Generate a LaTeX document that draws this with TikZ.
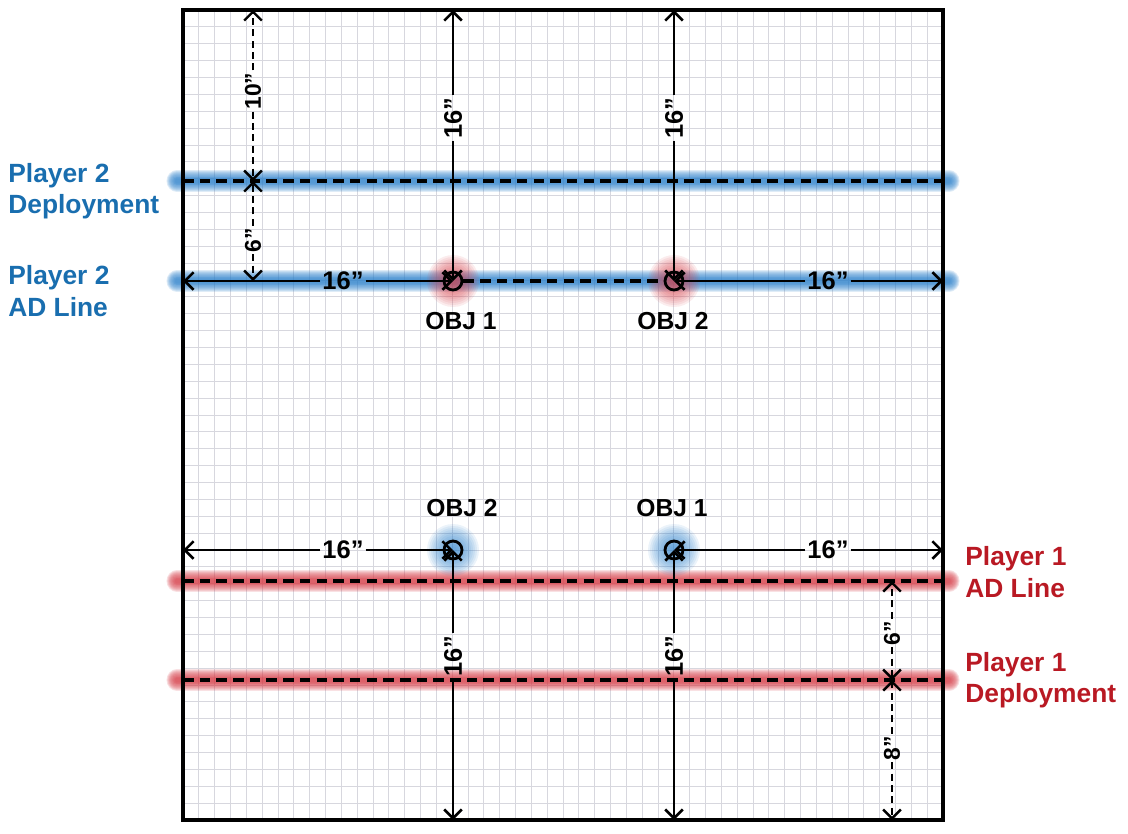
\documentclass[tikz,border=0pt]{standalone}
\usepackage{fontspec}
\setmainfont{Liberation Sans}
\usetikzlibrary{arrows.meta}

\definecolor{ptwoblue}{RGB}{25,110,175}
\definecolor{ponered}{RGB}{185,25,35}
\definecolor{blueglow}{RGB}{55,135,205}
\definecolor{redglow}{RGB}{215,70,80}
\definecolor{gridgray}{RGB}{215,215,222}

\begin{document}
\begin{tikzpicture}[
  x=0.02cm, y=-0.02cm,
  gridline/.style={draw=gridgray, line width=0.5pt},
  board/.style={draw=black, line width=2.2pt},
  glow/.style={draw=#1, opacity=0.16, line cap=round},
  deploy/.style={draw=black, line width=1.8pt, dash pattern=on 6pt off 3.5pt},
  dimarr/.style={draw=black, line width=1.5pt, -{Straight Barb[length=5pt,width=10pt]}},
  dimdash/.style={dimarr, line width=1.4pt, dash pattern=on 4pt off 2.5pt},
  obj/.style={circle, draw=black, line width=1.6pt, minimum size=0.36cm, inner sep=0pt},
  objlabel/.style={font=\fontsize{14}{16}\selectfont\bfseries},
  dimlabel/.style={font=\fontsize{14.5}{16}\selectfont\bfseries, inner sep=1pt},
  dimsmall/.style={font=\fontsize{13}{15}\selectfont\bfseries, inner sep=1pt, rotate=90},
  player/.style={font=\fontsize{15}{18}\selectfont\bfseries, align=left, anchor=west, inner sep=0pt}
]
\useasboundingbox (0,0) rectangle (1128,833);

\coordinate (nw) at (183,10);
\coordinate (se) at (943,820);
\coordinate (p2dl) at (177,181);
\coordinate (p2dr) at (949,181);
\coordinate (p2al) at (177,281);
\coordinate (p2ar) at (949,281);
\coordinate (p1al) at (177,581);
\coordinate (p1ar) at (949,581);
\coordinate (p1dl) at (177,680);
\coordinate (p1dr) at (949,680);

% table grid
\foreach \i in {1,...,47} {
  \draw[gridline] ({183+\i*15.8333},10) -- ({183+\i*15.8333},820);
  \draw[gridline] (183,{10+\i*16.875}) -- (943,{10+\i*16.875});
}

% glowing deployment lines
\foreach \w in {2,...,12} {
  \draw[glow=blueglow, line width=\w pt] (p2dl) -- (p2dr) (p2al) -- (p2ar);
  \draw[glow=redglow, line width=\w pt] (p1al) -- (p1ar) (p1dl) -- (p1dr);
}
\foreach \r in {4,6,...,26} {
  \fill[redglow, opacity=0.1] (453,281) circle (\r) (674,281) circle (\r);
  \fill[blueglow, opacity=0.1] (453,550) circle (\r) (674,550) circle (\r);
}

\draw[deploy] (p2dl -| nw) -- (p2dr -| se);
\draw[deploy] (p1al -| nw) -- (p1ar -| se);
\draw[deploy] (p1dl -| nw) -- (p1dr -| se);

\node[obj] (o1) at (453,281) {};
\node[obj] (o2) at (674,281) {};
\node[obj] (b2) at (453,550) {};
\node[obj] (b1) at (674,550) {};
\draw[deploy] (o1) -- (o2);

\node[objlabel] (o1lab) at (461,321) {OBJ 1};
\node[objlabel] (o2lab) at (673,321) {OBJ 2};
\node[objlabel] (b2lab) at (462,508) {OBJ 2};
\node[objlabel] (b1lab) at (672,508) {OBJ 1};

% 16 inch distances
\node[dimlabel, rotate=90] (v1) at (453,118) {16”};
\node[dimlabel, rotate=90] (v2) at (674,118) {16”};
\node[dimlabel, rotate=90] (v3) at (453,656) {16”};
\node[dimlabel, rotate=90] (v4) at (674,656) {16”};
\node[dimlabel] (h1) at (343,281) {16”};
\node[dimlabel] (h2) at (828,281) {16”};
\node[dimlabel] (h3) at (343,550) {16”};
\node[dimlabel] (h4) at (828,550) {16”};
\draw[dimarr] (v1) -- (v1 |- nw);
\draw[dimarr] (v1) -- (o1.center);
\draw[dimarr] (v2) -- (v2 |- nw);
\draw[dimarr] (v2) -- (o2.center);
\draw[dimarr] (v3) -- (v3 |- se);
\draw[dimarr] (v3) -- (b2.center);
\draw[dimarr] (v4) -- (v4 |- se);
\draw[dimarr] (v4) -- (b1.center);
\draw[dimarr] (h1) -- (h1 -| nw);
\draw[dimarr] (h1) -- (o1.center);
\draw[dimarr] (h2) -- (h2 -| se);
\draw[dimarr] (h2) -- (o2.center);
\draw[dimarr] (h3) -- (h3 -| nw);
\draw[dimarr] (h3) -- (b2.center);
\draw[dimarr] (h4) -- (h4 -| se);
\draw[dimarr] (h4) -- (b1.center);

% deployment depths
\node[dimsmall] (d10) at (253,91) {10”};
\node[dimsmall] (d6a) at (253,240) {6”};
\node[dimsmall] (d6b) at (892,633) {6”};
\node[dimsmall] (d8) at (892,748) {8”};
\draw[dimdash] (d10) -- (d10 |- nw);
\draw[dimdash] (d10) -- (d10 |- p2dl);
\draw[dimdash] (d6a) -- (d6a |- p2dl);
\draw[dimdash] (d6a) -- (d6a |- p2al);
\draw[dimdash] (d6b) -- (d6b |- p1al);
\draw[dimdash] (d6b) -- (d6b |- p1dl);
\draw[dimdash] (d8) -- (d8 |- p1dl);
\draw[dimdash] (d8) -- (d8 |- se);

\node[player, text=ptwoblue] (p2dlab) at (8,191) {Player 2\\Deployment};
\node[player, text=ptwoblue] (p2alab) at (8,291) {Player 2\\AD Line};
\node[player, text=ponered] (p1alab) at (965,572) {Player 1\\AD Line};
\node[player, text=ponered] (p1dlab) at (965,680) {Player 1\\Deployment};

\draw[board] (nw) rectangle (se);
\end{tikzpicture}
\end{document}
